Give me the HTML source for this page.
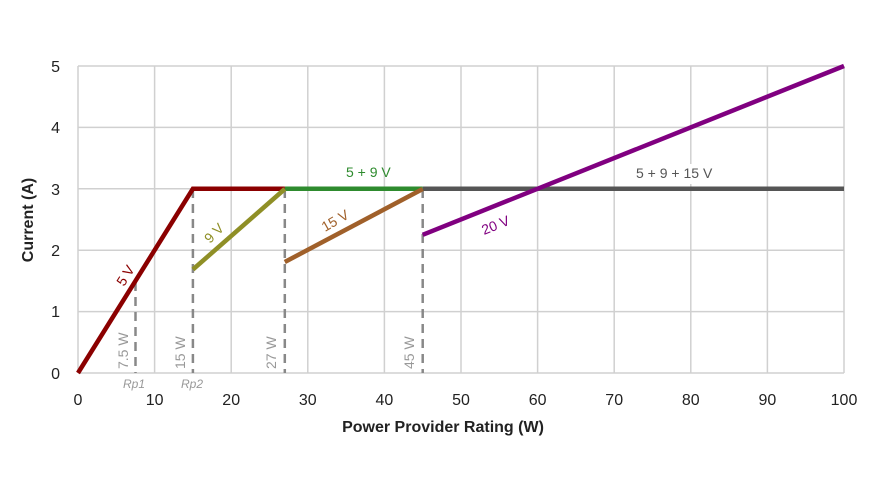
<!DOCTYPE html>
<html><head><meta charset="utf-8"><style>
html,body{margin:0;padding:0;background:#fff;}
svg{display:block;font-family:"Liberation Sans",sans-serif;}
</style></head><body>
<svg width="870" height="485" viewBox="0 0 870 485">
<rect width="870" height="485" fill="#fff"/>
<g stroke="#d0d0d0" stroke-width="1.5" fill="none">
<line x1="78" y1="66" x2="844" y2="66"/>
<line x1="78" y1="127.4" x2="844" y2="127.4"/>
<line x1="78" y1="188.8" x2="844" y2="188.8"/>
<line x1="78" y1="250.2" x2="844" y2="250.2"/>
<line x1="78" y1="311.6" x2="844" y2="311.6"/>
<line x1="78" y1="373" x2="844" y2="373"/>
<line x1="78" y1="66" x2="78" y2="373"/>
<line x1="154.6" y1="66" x2="154.6" y2="373"/>
<line x1="231.2" y1="66" x2="231.2" y2="373"/>
<line x1="307.8" y1="66" x2="307.8" y2="373"/>
<line x1="384.4" y1="66" x2="384.4" y2="373"/>
<line x1="461" y1="66" x2="461" y2="373"/>
<line x1="537.6" y1="66" x2="537.6" y2="373"/>
<line x1="614.2" y1="66" x2="614.2" y2="373"/>
<line x1="690.8" y1="66" x2="690.8" y2="373"/>
<line x1="767.4" y1="66" x2="767.4" y2="373"/>
<line x1="844" y1="66" x2="844" y2="373"/>
</g>
<g stroke="#888" stroke-width="2.5" stroke-dasharray="9,6" fill="none">
<line x1="135.5" y1="282" x2="135.5" y2="373"/>
<line x1="192.9" y1="189" x2="192.9" y2="373"/>
<line x1="284.8" y1="189" x2="284.8" y2="373"/>
<line x1="422.7" y1="189" x2="422.7" y2="373"/>
</g>
<g stroke-width="4.5" fill="none" stroke-linecap="butt">
<line x1="422.7" y1="188.8" x2="844" y2="188.8" stroke="#555"/>
<line x1="284.8" y1="188.8" x2="422.7" y2="188.8" stroke="#2e8b2e"/>
<polyline points="78,373 192.9,188.8 284.8,188.8" stroke="#8b0000"/>
<line x1="192.9" y1="269.5" x2="284.8" y2="189" stroke="#8f8f26"/>
<line x1="284.8" y1="262" x2="422.7" y2="189" stroke="#a0602a"/>
<line x1="422.7" y1="234.8" x2="844" y2="66" stroke="#800080"/>
</g>
<rect x="630" y="164" width="92" height="20" fill="#fff"/>
<g font-size="14">
<text x="346" y="177" fill="#2e8b2e">5 + 9 V</text>
<text x="636" y="178" fill="#555">5 + 9 + 15 V</text>
<text transform="translate(124,287) rotate(-58)" fill="#8b0000">5 V</text>
<text transform="translate(210,244) rotate(-45)" fill="#8f8f26">9 V</text>
<text transform="translate(325,232) rotate(-30)" fill="#a0602a">15 V</text>
<text transform="translate(484,235) rotate(-22)" fill="#800080">20 V</text>
</g>
<g font-size="14" fill="#999">
<text transform="translate(128,369) rotate(-90)">7.5 W</text>
<text transform="translate(185,369) rotate(-90)">15 W</text>
<text transform="translate(276,369) rotate(-90)">27 W</text>
<text transform="translate(414,369) rotate(-90)">45 W</text>
<text x="123" y="388" font-size="12" font-style="italic">Rp1</text>
<text x="181" y="388" font-size="12" font-style="italic">Rp2</text>
</g>
<g font-size="16" fill="#222" text-anchor="end">
<text x="60" y="72">5</text><text x="60" y="133">4</text><text x="60" y="195">3</text>
<text x="60" y="256">2</text><text x="60" y="317">1</text><text x="60" y="379">0</text>
</g>
<g font-size="16" fill="#222" text-anchor="middle">
<text x="78" y="405">0</text><text x="154.6" y="405">10</text><text x="231.2" y="405">20</text>
<text x="307.8" y="405">30</text><text x="384.4" y="405">40</text><text x="461" y="405">50</text>
<text x="537.6" y="405">60</text><text x="614.2" y="405">70</text><text x="690.8" y="405">80</text>
<text x="767.4" y="405">90</text><text x="844" y="405">100</text>
</g>
<text x="443" y="432" font-size="16" font-weight="bold" fill="#222" text-anchor="middle">Power Provider Rating (W)</text>
<text transform="translate(33,220) rotate(-90)" font-size="16" font-weight="bold" fill="#222" text-anchor="middle">Current (A)</text>
</svg>
</body></html>
